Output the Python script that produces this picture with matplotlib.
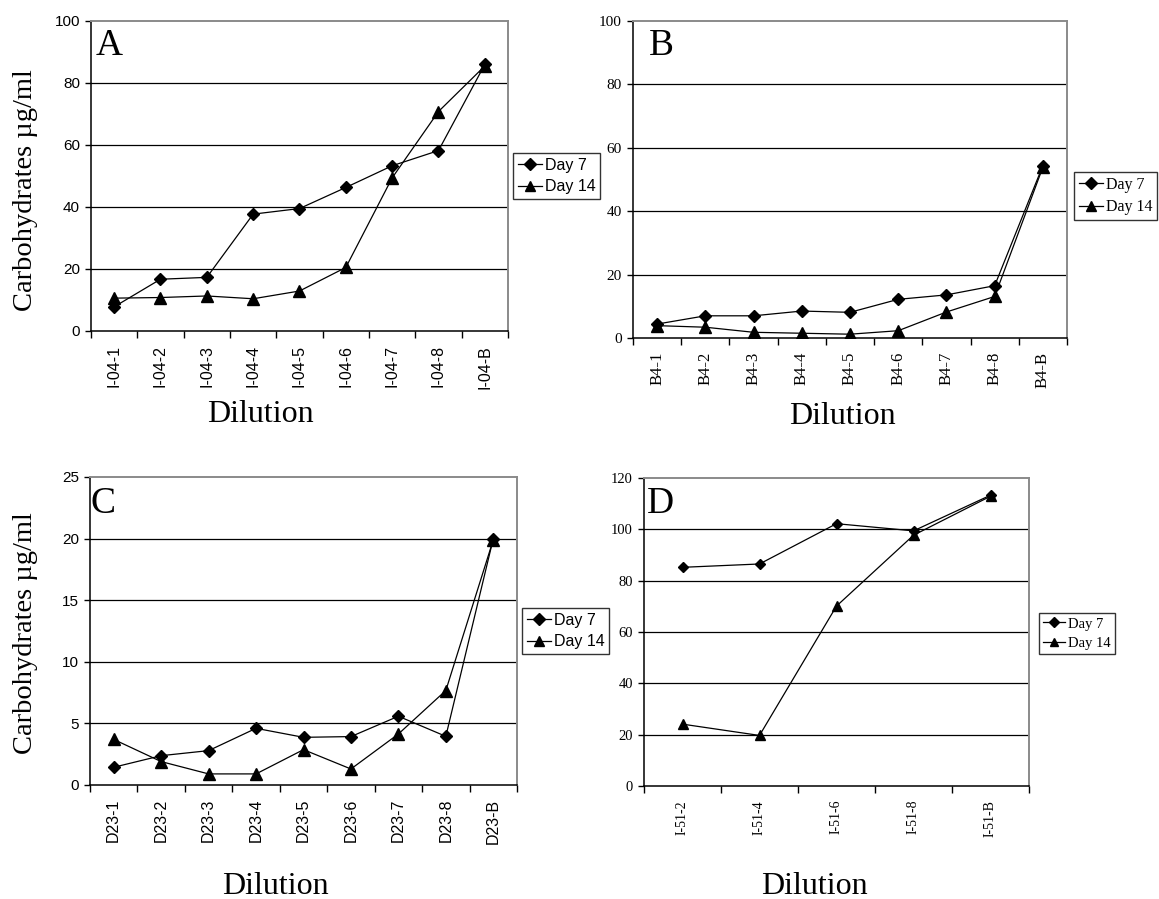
import matplotlib
matplotlib.use("Agg")
import matplotlib.pyplot as plt
from matplotlib.ticker import FixedLocator, NullFormatter, FixedFormatter

# ---------------- data ----------------
cats_a = ["I-04-1", "I-04-2", "I-04-3", "I-04-4", "I-04-5", "I-04-6", "I-04-7", "I-04-8", "I-04-B"]
day7_a = [7.8, 16.7, 17.3, 37.7, 39.5, 46.3, 53.3, 58.2, 86.0]
day14_a = [10.6, 10.8, 11.3, 10.4, 12.9, 20.5, 49.4, 70.8, 85.5]

cats_b = ["B4-1", "B4-2", "B4-3", "B4-4", "B4-5", "B4-6", "B4-7", "B4-8", "B4-B"]
day7_b = [4.4, 7.0, 7.0, 8.5, 8.1, 12.2, 13.6, 16.5, 54.4]
day14_b = [3.9, 3.4, 1.8, 1.5, 1.2, 2.3, 8.2, 13.1, 53.9]

cats_c = ["D23-1", "D23-2", "D23-3", "D23-4", "D23-5", "D23-6", "D23-7", "D23-8", "D23-B"]
day7_c = [1.44, 2.38, 2.79, 4.6, 3.87, 3.93, 5.58, 3.95, 20.0]
day14_c = [3.7, 1.9, 0.9, 0.9, 2.87, 1.3, 4.14, 7.67, 19.9]

cats_d = ["I-51-2", "I-51-4", "I-51-6", "I-51-8", "I-51-B"]
day7_d = [85.2, 86.5, 102.2, 99.4, 113.3]
day14_d = [24.1, 19.7, 70.1, 97.7, 112.9]

series_labels = ["Day 7", "Day 14"]
ylabel = "Carbohydrates \u00b5g/ml"
xlabel = "Dilution"

W, H = 1159, 899
fig = plt.figure(figsize=(W / 100, H / 100), dpi=100)

SANS = ["Liberation Sans", "DejaVu Sans"]
SERIF = ["Liberation Serif", "DejaVu Serif"]


def rect(l, t, r, b):
    return [l / W, 1 - b / H, (r - l) / W, (b - t) / H]


def panel(box, cats, d7, d14, ymax, ystep, tickfont, ytick_fs, xtick_fs,
          letter, letter_xy, leg_box, leg_fs, ms_scale=1.0, anchor_right=False):
    ax = fig.add_axes(rect(*box))
    n = len(cats)
    x = list(range(n))
    ax.plot(x, d7, color="black", lw=0.9, marker="D", ms=6.5 * ms_scale,
            mfc="black", mec="black", label=series_labels[0], zorder=3)
    ax.plot(x, d14, color="black", lw=0.9, marker="^", ms=8.0 * ms_scale,
            mfc="black", mec="black", label=series_labels[1], zorder=3)
    ax.set_xlim(-0.5, n - 0.5)
    ax.set_ylim(0, ymax)
    yt = list(range(0, ymax + 1, ystep))
    ax.set_yticks(yt)
    ax.set_yticklabels([str(v) for v in yt], family=tickfont, fontsize=ytick_fs)
    for v in yt[1:-1]:
        ax.axhline(v, color="black", lw=0.9, zorder=1)
    # x ticks: marks at boundaries, labels at centers
    ax.xaxis.set_major_locator(FixedLocator([i - 0.5 for i in range(n + 1)]))
    ax.xaxis.set_major_formatter(NullFormatter())
    ax.xaxis.set_minor_locator(FixedLocator(x))
    ax.xaxis.set_minor_formatter(FixedFormatter(cats))
    ax.tick_params(axis="x", which="major", direction="out", length=5, width=1, color="black")
    ax.tick_params(axis="x", which="minor", length=0, pad=10)
    ax.tick_params(axis="y", direction="out", length=4, width=1, pad=4)
    for lab in ax.xaxis.get_minorticklabels():
        lab.set_rotation(90)
        lab.set_family(tickfont)
        lab.set_fontsize(xtick_fs)
    for s in ("left", "bottom"):
        ax.spines[s].set_color("black")
        ax.spines[s].set_linewidth(1.1)
    for s in ("top", "right"):
        ax.spines[s].set_color("#8a8a8a")
        ax.spines[s].set_linewidth(1.4)
    ax.text(letter_xy[0] / W, 1 - letter_xy[1] / H, letter, transform=fig.transFigure,
            family=SERIF, fontsize=27, ha="left", va="baseline")
    l, t, r, b = leg_box
    if anchor_right:
        loc, anc = "upper right", (r / W, 1 - t / H)
    else:
        loc, anc = "upper left", (l / W, 1 - t / H)
    leg = ax.legend(loc=loc, bbox_to_anchor=anc,
                    bbox_transform=fig.transFigure, frameon=True, fancybox=False,
                    edgecolor="black", prop={"family": tickfont, "size": leg_fs},
                    handlelength=1.5, handletextpad=0.2, borderpad=0.3,
                    labelspacing=0.4, borderaxespad=0, markerscale=0.9)
    leg.get_frame().set_linewidth(1.0)
    return ax


panel((91, 21, 508, 331), cats_a, day7_a, day14_a, 100, 20, SANS, 11, 11.5,
      "A", (96, 55), (513, 153, 597, 201), 11.5)
panel((633, 21, 1067, 338), cats_b, day7_b, day14_b, 100, 20, SERIF, 11, 12,
      "B", (649, 55), (1074, 172, 1157, 222), 11.5, anchor_right=True)
panel((90, 477, 517, 785), cats_c, day7_c, day14_c, 25, 5, SANS, 11, 11.5,
      "C", (91, 513), (522, 608, 609, 658), 11.5)
panel((644, 478, 1029, 786), cats_d, day7_d, day14_d, 120, 20, SERIF, 10.5, 10,
      "D", (647, 513), (1039, 613, 1119, 652), 10.5, ms_scale=0.85)

# axis titles
for (xc, yc) in [(26, 190), (26, 633)]:
    fig.text(xc / W, 1 - yc / H, ylabel, rotation=90, family=SERIF, fontsize=20.5,
             ha="center", va="center")
for (xc, yc) in [(260, 414), (842, 416), (275, 886), (814, 886)]:
    fig.text(xc / W, 1 - yc / H, xlabel, family=SERIF, fontsize=23,
             ha="center", va="center")

fig.savefig("out.png", dpi=100)
